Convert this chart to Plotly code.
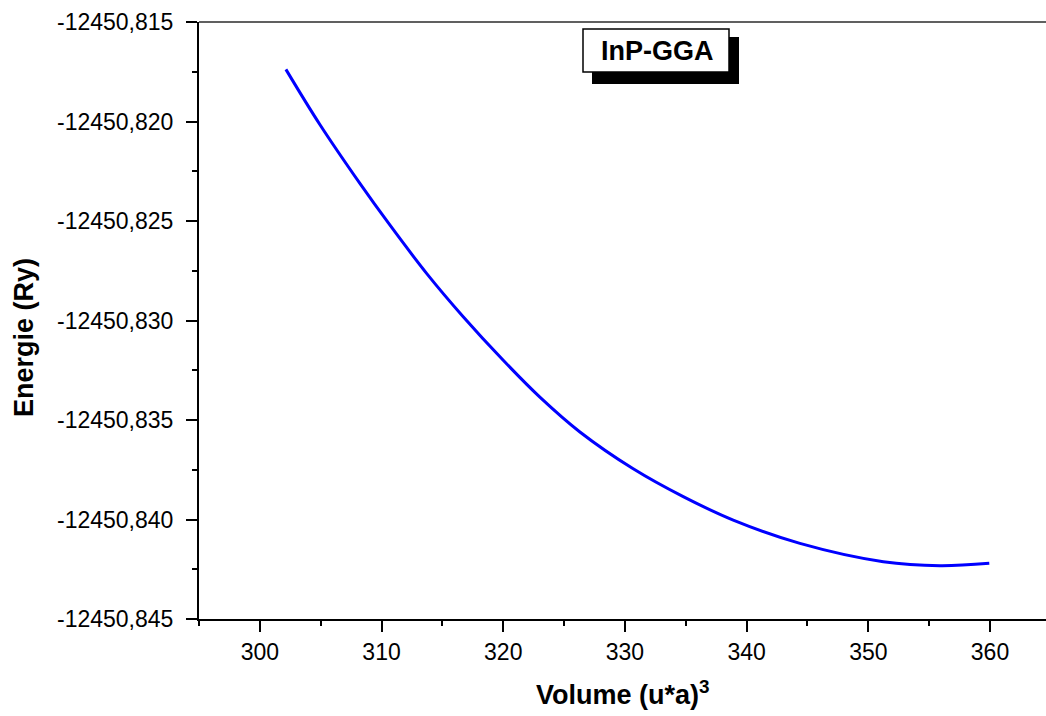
import plotly.graph_objects as go

# Data
volume = [302.14, 304.93, 308.22, 310.68, 313.70, 316.71, 320.00, 323.01, 326.30,
          330.68, 334.79, 338.90, 344.38, 351.23, 355.89, 359.94]
energie = [-12450.81738, -12450.82015, -12450.82311, -12450.82520, -12450.82763,
           -12450.82981, -12450.83200, -12450.83385, -12450.83560, -12450.83745,
           -12450.83885, -12450.84003, -12450.84120, -12450.84212, -12450.84232,
           -12450.84220]

x_tickvals = [300, 310, 320, 330, 340, 350, 360]
x_ticktext = ["300", "310", "320", "330", "340", "350", "360"]
y_tickvals = [-12450.845, -12450.840, -12450.835, -12450.830, -12450.825, -12450.820, -12450.815]
y_ticktext = ["-12450,845", "-12450,840", "-12450,835", "-12450,830", "-12450,825",
              "-12450,820", "-12450,815"]

W, H = 1046, 716
L, R, T, B = 199, 0, 22, 97
PW, PH = W - L - R, H - T - B


def px(x):
    return (x - L) / PW


def py(y):
    return (H - B - y) / PH


fig = go.Figure()
fig.add_trace(go.Scatter(x=volume, y=energie, mode="lines",
                         line=dict(color="#0000ff", width=3, shape="spline", smoothing=1.0),
                         showlegend=False, hoverinfo="skip"))

font_main = "Liberation Sans, Arial, sans-serif"

fig.update_layout(
    width=W, height=H,
    margin=dict(l=L, r=R, t=T, b=B),
    paper_bgcolor="white", plot_bgcolor="white",
    font=dict(family=font_main, color="black"),
    xaxis=dict(range=[295, 364.6], showgrid=False, zeroline=False,
               showline=True, linecolor="black", linewidth=2,
               ticks="outside", ticklen=11, tickwidth=2, tickcolor="black",
               tickmode="array", tickvals=x_tickvals, ticktext=x_ticktext,
               tickfont=dict(size=23, family=font_main),
               minor=dict(ticks="outside", ticklen=5, tickwidth=2, tickcolor="black",
                          tick0=295, dtick=5, showgrid=False),
               ticklabelstandoff=0),
    yaxis=dict(range=[-12450.845, -12450.815], showgrid=False, zeroline=False,
               showline=True, linecolor="black", linewidth=2,
               ticks="outside", ticklen=11, tickwidth=2, tickcolor="black",
               tickmode="array", tickvals=y_tickvals, ticktext=y_ticktext,
               tickfont=dict(size=23, family=font_main),
               minor=dict(ticks="outside", ticklen=5, tickwidth=2, tickcolor="black",
                          tick0=-12450.845, dtick=0.0025, showgrid=False),
               ticklabelstandoff=8),
    shapes=[
        # top frame line
        dict(type="line", xref="paper", yref="paper", x0=0, x1=1, y0=1, y1=1,
             line=dict(color="#606060", width=2)),
        # label shadow
        dict(type="rect", xref="paper", yref="paper",
             x0=px(592), x1=px(739), y0=py(84), y1=py(37),
             fillcolor="black", line=dict(width=0)),
        # label box
        dict(type="rect", xref="paper", yref="paper",
             x0=px(583), x1=px(729), y0=py(72), y1=py(29),
             fillcolor="white", line=dict(color="black", width=1.5)),
    ],
    annotations=[
        dict(text="<b>InP-GGA</b>", xref="paper", yref="paper",
             x=px(657), y=py(51), xanchor="center", yanchor="middle",
             showarrow=False, font=dict(size=27, family=font_main, color="black")),
        dict(text="<b>Volume (u*a)<sup>3</sup></b>", xref="paper", yref="paper",
             x=0.5, y=py(693), xanchor="center", yanchor="middle",
             showarrow=False, font=dict(size=27, family=font_main, color="black")),
        dict(text="<b>Energie (Ry)</b>", xref="paper", yref="paper",
             x=px(24), y=py(338), xanchor="center", yanchor="middle", textangle=-90,
             showarrow=False, font=dict(size=27, family=font_main, color="black")),
    ],
)

fig.write_html("out.html")
